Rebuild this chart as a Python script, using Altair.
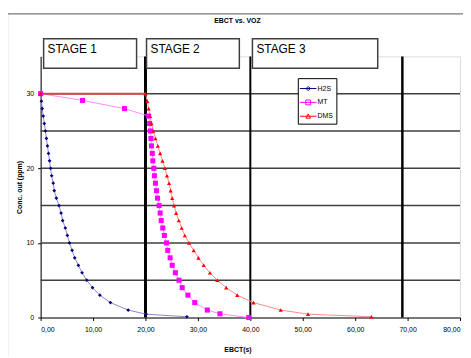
import altair as alt
import pandas as pd

# ---------------- data ----------------
series_names = ["H2S", "MT", "DMS"]

h2s_x = [0, 0.15, 0.3, 0.5, 0.7, 0.9, 1.1, 1.3, 1.5, 1.7, 1.9, 2.1, 2.4, 2.6, 3.0, 3.5,
         3.9, 4.2, 4.7, 5.1, 5.5, 6.0, 6.5, 7.2, 7.9, 8.8, 9.9, 11.3, 13.3, 16.7, 20.1, 27.9]
h2s_y = [30, 29, 28, 27, 26, 25, 24, 23, 22, 21, 20, 19, 18, 17, 16, 15,
         14, 13, 12, 11, 10, 9, 8, 7, 6, 5, 4, 3, 2, 1, 0.45, 0.1]

mt_x = [0, 8.0, 16.0, 20.6, 20.8, 20.95, 21.05, 21.15, 21.3, 21.4, 21.6, 21.7, 21.9, 22.1, 22.3,
        22.6, 22.8, 23.0, 23.3, 23.6, 24.0, 24.25, 24.7, 25.1, 25.7, 26.4, 27.0, 28.1, 29.4,
        31.8, 34.2, 39.7]
mt_y = [30, 29.1, 28.0, 27, 26, 25, 24, 23, 22, 21, 20, 19, 18, 17, 16,
        15, 14, 13, 12, 11, 10, 9, 8, 7, 6, 5, 4, 3, 2,
        1, 0.5, 0]

dms_x = [0, 20.0, 20.35, 20.6, 20.85, 21.15, 21.5, 21.9, 22.35, 22.8, 23.25, 23.7, 24.1, 24.5,
         24.8, 25.1, 25.45, 25.85, 26.35, 26.9, 27.5, 28.3, 29.2, 30.1, 31.1, 32.3, 33.7, 35.4,
         37.5, 40.6, 45.8, 51.0, 63.1]
dms_y = [30, 30, 29, 28, 27, 26, 25, 24, 23, 22, 21, 20, 19, 18,
         17, 16, 15, 14, 13, 12, 11, 10, 9, 8, 7, 6, 5, 4,
         3, 2, 1, 0.45, 0.1]

# DMS plateau segment (drawn darker in the original)
lag_x = [0, 20]
lag_y = [30, 30]

marker_colors = ["#000080", "#FF00FF", "#FF0000"]
line_colors = ["#8a8ac4", "#ff8cff", "#ff8a8a"]
marker_shapes = ["diamond", "square", "triangle-up"]
marker_sizes = [14, 26, 18]
legend_paths = [
    "M-1.2,0H1.2M0,-0.3L0.3,0L0,0.3L-0.3,0Z",
    "M-1.2,0H1.2M-0.35,-0.35H0.35V0.35H-0.35Z",
    "M-1.2,0H1.2M0,-0.33L0.33,0.28H-0.33Z",
]

chart_title = "EBCT vs. VOZ"

stage_labels = ["STAGE 1", "STAGE 2", "STAGE 3"]
stage_box_x0 = [0.57, 20.2, 40.4]
stage_box_x1 = [18.3, 37.9, 64.3]
stage_box_y0 = [33.4, 33.4, 33.4]
stage_box_y1 = [37.35, 37.35, 37.35]
stage_text_y = [36.0, 36.0, 36.0]

stage_line_x = [20, 40, 69]
stage_line_w = [3, 2, 2.5]

grid_y = [5, 10, 15, 20, 25, 30]
x_ticks = [0, 10, 20, 30, 40, 50, 60, 70, 80]
y_ticks = [0, 5, 10, 15, 20, 25, 30, 35]

FONT = "Liberation Sans"

# ---------------- tables ----------------
xs = {"H2S": h2s_x, "MT": mt_x, "DMS": dms_x}
ys = {"H2S": h2s_y, "MT": mt_y, "DMS": dms_y}
frames = []
for name in series_names:
    frames.append(pd.DataFrame({"x": xs[name], "y": ys[name], "series": name,
                                "idx": range(len(xs[name]))}))
df = pd.concat(frames, ignore_index=True)

boxes = pd.DataFrame({"label": stage_labels, "x0": stage_box_x0, "x1": stage_box_x1,
                      "y0": stage_box_y0, "y1": stage_box_y1, "ty": stage_text_y})
vlines = pd.DataFrame({"x": stage_line_x, "w": stage_line_w})
grid = pd.DataFrame({"y": grid_y})
lag = pd.DataFrame({"x": lag_x, "y": lag_y})

xscale = alt.Scale(domain=[0, 80], nice=False, zero=False)
yscale = alt.Scale(domain=[0, 35], nice=False, zero=False)

X = alt.X("x:Q", scale=xscale, axis=alt.Axis(
    values=x_ticks, grid=False,
    labelExpr="replace(format(datum.value, '.2f'), '.', ',')",
    labelFont=FONT, labelFontSize=7, labelColor="black", labelPadding=5,
    tickSize=3, tickColor="black", domainColor="black", domainWidth=1,
    title="EBCT(s)", titleFont=FONT, titleFontSize=7, titleFontWeight="bold",
    titleColor="black", titlePadding=13, titleX=199))
Y = alt.Y("y:Q", scale=yscale, axis=alt.Axis(
    values=y_ticks, grid=False,
    labelFont=FONT, labelFontSize=7, labelColor="black", labelPadding=4,
    tickSize=3, tickColor="black", domainColor="black", domainWidth=1,
    title="Conc. out (ppm)", titleFont=FONT, titleFontSize=7, titleFontWeight="bold",
    titleColor="black", titlePadding=4))

one = pd.DataFrame({"t": [chart_title]})

frame = alt.Chart(one).mark_rect(
    fill="transparent", stroke="#7a7a7a", strokeWidth=1.2
).encode(x=alt.value(-33.5), x2=alt.value(440), y=alt.value(-43), y2=alt.value(340))

title_layer = alt.Chart(one).mark_text(
    font=FONT, fontSize=7, fontWeight="bold", color="black", align="center", baseline="middle"
).encode(x=alt.value(199), y=alt.value(-36), text="t:N")

grid_layer = alt.Chart(grid).mark_rule(color="#404040", strokeWidth=1.5).encode(y=Y)

vline_layer = alt.Chart(vlines).mark_rule(color="black").encode(
    x=X, strokeWidth=alt.StrokeWidth("w:Q", scale=None))

layers = [frame, title_layer, grid_layer, vline_layer]

for i, name in enumerate(series_names):
    sub = alt.Chart(df).transform_filter(alt.datum.series == name)
    layers.append(sub.mark_line(color=line_colors[i], strokeWidth=1).encode(
        x=X, y=Y, order="idx:Q"))

layers.append(alt.Chart(lag).mark_line(color="#c8504b", strokeWidth=2).encode(x=X, y=Y))

for i, name in enumerate(series_names):
    sub = alt.Chart(df).transform_filter(alt.datum.series == name)
    layers.append(sub.mark_point(
        shape=marker_shapes[i], size=marker_sizes[i], filled=True,
        color=marker_colors[i], opacity=1).encode(x=X, y=Y))

legend_layer = alt.Chart(df).mark_point(opacity=0, filled=True).encode(
    x=X, y=Y,
    color=alt.Color("series:N", scale=alt.Scale(domain=series_names, range=marker_colors),
                    legend=alt.Legend(
                        title=None, orient="none", legendX=260, legendY=22,
                        strokeColor="black", fillColor="white", padding=3,
                        rowPadding=2, symbolSize=196, symbolStrokeWidth=1,
                        symbolOpacity=1, labelFont=FONT, labelFontSize=7,
                        labelColor="black", labelOffset=2)),
    stroke=alt.Stroke("series:N", scale=alt.Scale(domain=series_names, range=marker_colors)),
    shape=alt.Shape("series:N", scale=alt.Scale(domain=series_names, range=legend_paths)),
)
layers.append(legend_layer)

box_layer = alt.Chart(boxes).mark_rect(fill="white", stroke="#404040", strokeWidth=1.5).encode(
    x=alt.X("x0:Q", scale=xscale), x2="x1:Q",
    y=alt.Y("y0:Q", scale=yscale), y2="y1:Q")
text_layer = alt.Chart(boxes).mark_text(
    align="left", baseline="middle", dx=4, fontSize=12, font=FONT, color="black"
).encode(x=alt.X("x0:Q", scale=xscale), y=alt.Y("ty:Q", scale=yscale), text="label:N")
layers += [box_layer, text_layer]

chart = alt.layer(*layers).properties(
    width=424, height=264,
    autosize=alt.AutoSizeParams(type="none"),
    padding={"left": 33, "top": 47, "right": 3, "bottom": 38},
).configure_view(stroke="#a0a0a0", strokeWidth=1).configure(background="white")

chart.save("out.html", embed_options={"renderer": "svg", "actions": False})
